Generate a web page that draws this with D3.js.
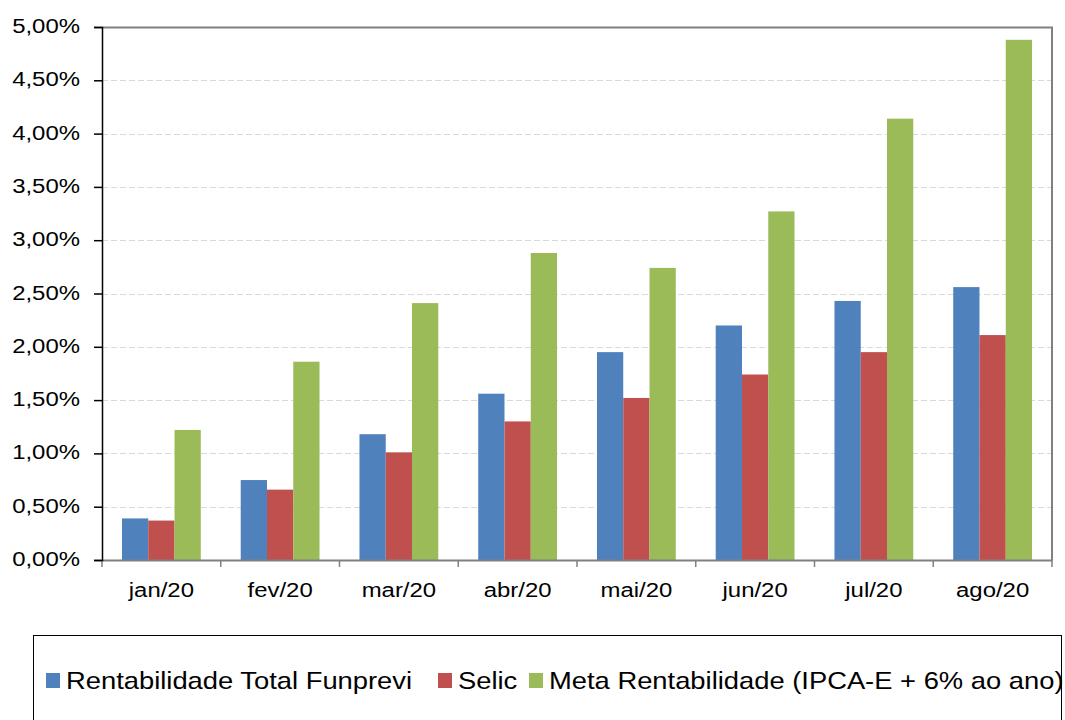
<!DOCTYPE html>
<html>
<head>
<meta charset="utf-8">
<script src="https://cdn.jsdelivr.net/npm/d3@7"></script>
<style>
  body { margin: 0; background: #fff; }
  svg { display: block; font-family: "Liberation Sans", Arial, sans-serif; }
</style>
</head>
<body>
<script>
// Data (monthly accumulated returns, %)
const months = ['jan/20', 'fev/20', 'mar/20', 'abr/20', 'mai/20', 'jun/20', 'jul/20', 'ago/20'];
const seriesNames = ['Rentabilidade Total Funprevi', 'Selic', 'Meta Rentabilidade (IPCA-E + 6% ao ano)'];
const funprevi = [0.39, 0.75, 1.18, 1.56, 1.95, 2.20, 2.43, 2.56];
const selic = [0.37, 0.66, 1.01, 1.30, 1.52, 1.74, 1.95, 2.11];
const meta = [1.22, 1.86, 2.41, 2.88, 2.74, 3.27, 4.14, 4.88];
const yTicks = [0, 0.5, 1, 1.5, 2, 2.5, 3, 3.5, 4, 4.5, 5];
const colors = ['#4F81BD', '#C0504D', '#9BBB59'];

const width = 1065;
const height = 720;
const plot = { left: 102, top: 27, right: 1052, bottom: 560 };
const stretch = 1.14; // labels in the picture are a bit wider than plain Arial

const svg = d3.select('body')
  .append('svg')
  .attr('width', width)
  .attr('height', height);

const x0 = d3.scaleBand()
  .domain(months)
  .range([plot.left, plot.right])
  .paddingInner(0)
  .paddingOuter(0);

const x1 = d3.scaleBand()
  .domain(d3.range(3))
  .range([0, x0.bandwidth()])
  .paddingInner(0)
  .paddingOuter(0.76);

const y = d3.scaleLinear()
  .domain([0, 5])
  .range([plot.bottom, plot.top]);

// Gridlines
svg.append('g')
  .selectAll('line')
  .data(yTicks.filter(d => d > 0 && d < 5))
  .enter()
  .append('line')
  .attr('x1', plot.left)
  .attr('x2', plot.right)
  .attr('y1', d => Math.round(y(d)) + 0.5)
  .attr('y2', d => Math.round(y(d)) + 0.5)
  .attr('stroke', '#d9d9d9')
  .attr('stroke-dasharray', '6,3');

// Top and right border
svg.append('path')
  .attr('d', `M${plot.left},${plot.top + 0.5}H${plot.right}V${plot.bottom}`)
  .attr('fill', 'none')
  .attr('stroke', '#808080')
  .attr('stroke-width', 2);

// Bars
const rows = months.map((m, i) => ({ month: m, values: [funprevi[i], selic[i], meta[i]] }));

svg.append('g')
  .selectAll('g')
  .data(rows)
  .enter()
  .append('g')
  .attr('transform', d => `translate(${x0(d.month)},0)`)
  .selectAll('rect')
  .data(d => d.values.map((v, k) => ({ k, v })))
  .enter()
  .append('rect')
  .attr('x', d => x1(d.k))
  .attr('width', x1.bandwidth())
  .attr('y', d => y(d.v))
  .attr('height', d => y(0) - y(d.v))
  .attr('fill', d => colors[d.k]);

// X axis
const xAxis = svg.append('g')
  .attr('transform', `translate(0,${plot.bottom})`)
  .call(d3.axisBottom(x0).tickSize(0).tickFormat(''));
xAxis.select('.domain').attr('stroke', '#808080').attr('stroke-width', 2);

svg.append('g')
  .selectAll('line')
  .data(months.map(m => x0(m)).concat([plot.right]))
  .enter()
  .append('line')
  .attr('x1', d => d)
  .attr('x2', d => d)
  .attr('y1', plot.bottom)
  .attr('y2', plot.bottom + 7)
  .attr('stroke', '#808080')
  .attr('stroke-width', 1.5);

svg.append('g')
  .selectAll('text')
  .data(months)
  .enter()
  .append('text')
  .attr('transform', d => `translate(${x0(d) + x0.bandwidth() / 2},597) scale(${stretch},1)`)
  .attr('text-anchor', 'middle')
  .attr('font-size', 21)
  .attr('fill', '#000')
  .text(d => d);

// Y axis
const yAxis = svg.append('g')
  .attr('transform', `translate(${plot.left},0)`)
  .call(d3.axisLeft(y).tickValues(yTicks).tickSize(8).tickFormat(''));
yAxis.select('.domain').attr('stroke', '#000').attr('stroke-width', 1.5);
yAxis.selectAll('.tick line').attr('stroke', '#000').attr('stroke-width', 1.5);

const fmt = d => d.toFixed(2).replace('.', ',') + '%';
svg.append('g')
  .selectAll('text')
  .data(yTicks)
  .enter()
  .append('text')
  .attr('transform', d => `translate(80,${y(d) + 6}) scale(${stretch},1)`)
  .attr('text-anchor', 'end')
  .attr('font-size', 21)
  .attr('fill', '#000')
  .text(fmt);

// Legend
svg.append('rect')
  .attr('x', 33.5)
  .attr('y', 635.5)
  .attr('width', 1028)
  .attr('height', 100)
  .attr('fill', 'none')
  .attr('stroke', '#000');

const legendX = [46, 438, 529];
const legend = svg.append('g')
  .selectAll('g')
  .data(seriesNames)
  .enter()
  .append('g')
  .attr('transform', (d, i) => `translate(${legendX[i]},673)`);

legend.append('rect')
  .attr('width', 14)
  .attr('height', 15)
  .attr('fill', (d, i) => colors[i]);

legend.append('text')
  .attr('transform', `translate(20,16) scale(${stretch},1)`)
  .attr('font-size', 24)
  .attr('fill', '#000')
  .text(d => d);
</script>
</body>
</html>
